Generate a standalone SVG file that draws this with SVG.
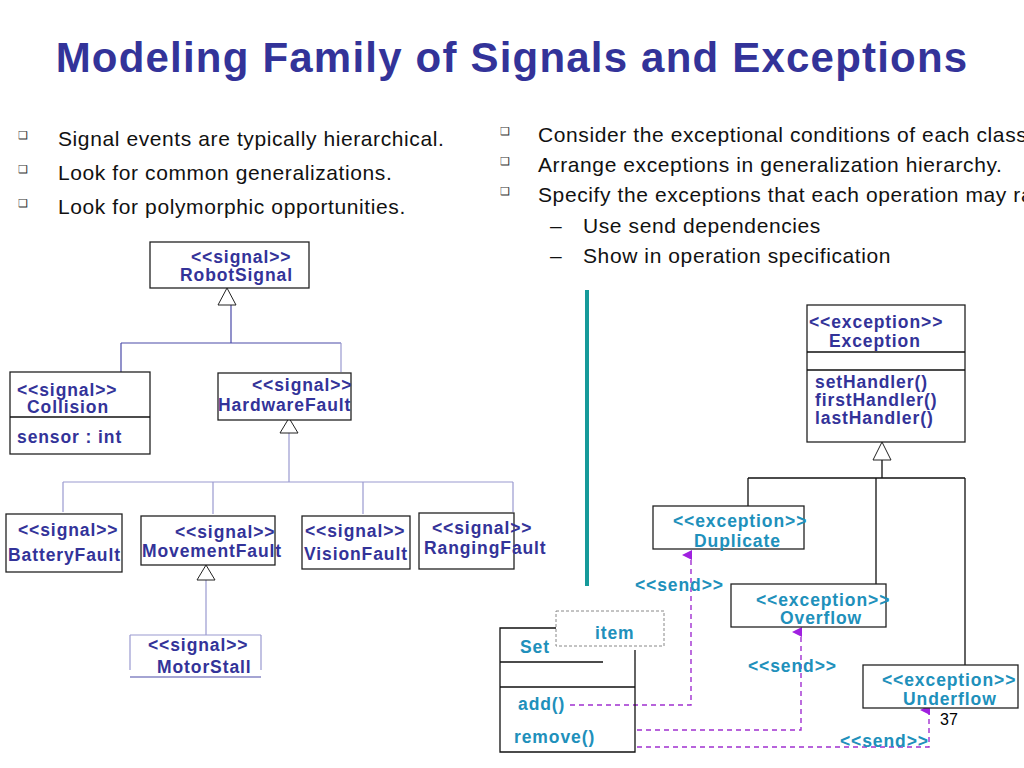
<svg xmlns="http://www.w3.org/2000/svg" width="1024" height="768" viewBox="0 0 1024 768">
<style>
text{font-family:"Liberation Sans",Arial,sans-serif}
.t{font-size:42px;font-weight:bold;fill:#333399;letter-spacing:1.2px}
.b{font-size:21px;fill:#111;letter-spacing:0.6px}
.m{font-size:11px;fill:#333}
.s{font-size:17.5px;font-weight:bold;fill:#333399;letter-spacing:0.9px}
.e{font-size:17.5px;font-weight:bold;fill:#2090BB;letter-spacing:0.9px}
.box{fill:#fff;stroke:#222;stroke-width:1.3}
.ln{stroke:#4a4aa8;stroke-width:1.2;fill:none}
.ln2{stroke:#9a9ad0;stroke-width:1.2;fill:none}
.bk{stroke:#111;stroke-width:1.3;fill:none}
.tri{fill:#fff;stroke:#222;stroke-width:1}
.d{stroke:#A030D0;stroke-width:1.4;stroke-dasharray:5,4;fill:none}
</style>
<defs><marker id="ah" markerWidth="10" markerHeight="10" refX="5" refY="9" orient="auto" markerUnits="userSpaceOnUse"><path d="M0,10 L5,0 L10,10 Z" fill="#A020E0"/></marker></defs>
<text class="t" x="512" y="72" text-anchor="middle">Modeling Family of Signals and Exceptions</text>
<g>
<text class="m" x="18" y="139">❑</text><text class="b" x="58" y="146">Signal events are typically hierarchical.</text>
<text class="m" x="18" y="173">❑</text><text class="b" x="58" y="180">Look for common generalizations.</text>
<text class="m" x="18" y="207">❑</text><text class="b" x="58" y="214">Look for polymorphic opportunities.</text>
<text class="m" x="500" y="135">❑</text><text class="b" x="538" y="142">Consider the exceptional conditions of each class.</text>
<text class="m" x="500" y="165">❑</text><text class="b" x="538" y="172">Arrange exceptions in generalization hierarchy.</text>
<text class="m" x="500" y="195">❑</text><text class="b" x="538" y="202">Specify the exceptions that each operation may raise.</text>
<text class="b" x="550" y="233">–</text><text class="b" x="583" y="233">Use send dependencies</text>
<text class="b" x="550" y="263">–</text><text class="b" x="583" y="263">Show in operation specification</text>
</g>
<rect x="585" y="290" width="4" height="296" fill="#169A9A"/>
<g id="connectors">
<path class="ln" d="M231,305 V343 M121,343 H341 M121,343 V372"/>
<path class="ln2" d="M341,343 V372 M289,433 V482 M63,482 H513 M63,482 V512 M213,482 V514 M363,482 V514 M513,482 V512 M206,580 V635"/>
<polygon class="tri" points="227,288 218,305 236,305"/>
<polygon class="tri" points="289,418 280,433 298,433"/>
<polygon class="tri" points="206,565 197,580 215,580"/>
<path class="bk" d="M882,460 V478 M748,478 H965 M748,478 V506 M876,478 V584 M965,478 V665"/>
<polygon class="tri" points="882,442 873,460 891,460"/>
<path class="d" d="M570,705 H691 V555" marker-end="url(#ah)"/>
<path class="d" d="M637,730 H801 V632" marker-end="url(#ah)"/>
<path class="d" d="M637,747 H929 V710" marker-end="url(#ah)"/>
<text class="e" x="635" y="591">&lt;&lt;send&gt;&gt;</text>
<text class="e" x="748" y="672">&lt;&lt;send&gt;&gt;</text>
<text class="e" x="840" y="747">&lt;&lt;send&gt;&gt;</text>
</g>
<g id="RobotSignal"><rect class="box" x="150" y="242" width="159" height="46"/><text class="s" x="191" y="263">&lt;&lt;signal&gt;&gt;</text><text class="s" x="180" y="281">RobotSignal</text></g>
<g id="Collision"><rect class="box" x="10" y="372" width="140" height="82"/><line class="bk" x1="10" y1="417" x2="150" y2="417"/><text class="s" x="17" y="396">&lt;&lt;signal&gt;&gt;</text><text class="s" x="27" y="413">Collision</text><text class="s" x="17" y="443">sensor : int</text></g>
<g id="HardwareFault"><rect class="box" x="218" y="373" width="133" height="47"/><text class="s" x="252" y="391">&lt;&lt;signal&gt;&gt;</text><text class="s" x="218" y="411">HardwareFault</text></g>
<g id="BatteryFault"><rect class="box" x="6" y="514" width="116" height="58"/><text class="s" x="18" y="536">&lt;&lt;signal&gt;&gt;</text><text class="s" x="8" y="561">BatteryFault</text></g>
<g id="MovementFault"><rect class="box" x="141" y="516" width="134" height="49"/><text class="s" x="175" y="538">&lt;&lt;signal&gt;&gt;</text><text class="s" x="142" y="557">MovementFault</text></g>
<g id="VisionFault"><rect class="box" x="302" y="516" width="108" height="53"/><text class="s" x="305" y="537">&lt;&lt;signal&gt;&gt;</text><text class="s" x="304" y="560">VisionFault</text></g>
<g id="RangingFault"><rect class="box" x="419" y="513" width="95" height="56"/><text class="s" x="432" y="534">&lt;&lt;signal&gt;&gt;</text><text class="s" x="424" y="554">RangingFault</text></g>
<g id="MotorStall"><path class="ln2" d="M130,635 V670 M261,635 V670 M130,635 H261"/><line class="ln" x1="130" y1="677" x2="261" y2="677"/><text class="s" x="148" y="651">&lt;&lt;signal&gt;&gt;</text><text class="s" x="157" y="673">MotorStall</text></g>
<g id="Exception"><rect class="box" x="807" y="305" width="158" height="137"/><path class="bk" d="M807,352 H965 M807,370 H965"/><text class="s" x="809" y="328">&lt;&lt;exception&gt;&gt;</text><text class="s" x="829" y="347">Exception</text><text class="s" x="815" y="388">setHandler()</text><text class="s" x="815" y="406">firstHandler()</text><text class="s" x="815" y="424">lastHandler()</text></g>
<g id="Duplicate"><rect class="box" x="653" y="506" width="151" height="43"/><text class="e" x="673" y="527">&lt;&lt;exception&gt;&gt;</text><text class="e" x="694" y="547">Duplicate</text></g>
<g id="Overflow"><rect class="box" x="731" y="584" width="155" height="43"/><text class="e" x="756" y="606">&lt;&lt;exception&gt;&gt;</text><text class="e" x="780" y="624">Overflow</text></g>
<g id="Underflow"><rect class="box" x="863" y="665" width="155" height="43"/><text class="e" x="882" y="686">&lt;&lt;exception&gt;&gt;</text><text class="e" x="903" y="705">Underflow</text></g>
<g id="Set"><path class="bk" d="M635,650 V752 H500 V628 H556 M500,662 H603 M500,687 H635 M635,675 V700"/><text class="e" x="520" y="653">Set</text><text class="e" x="518" y="710">add()</text><text class="e" x="514" y="743">remove()</text>
<rect x="556" y="611" width="108" height="35" fill="#fff" stroke="#888" stroke-dasharray="3,2"/><text class="e" x="595" y="639">item</text></g>
<text x="940" y="725" font-size="16" fill="#000" font-family="Liberation Sans,sans-serif">37</text>
</svg>
